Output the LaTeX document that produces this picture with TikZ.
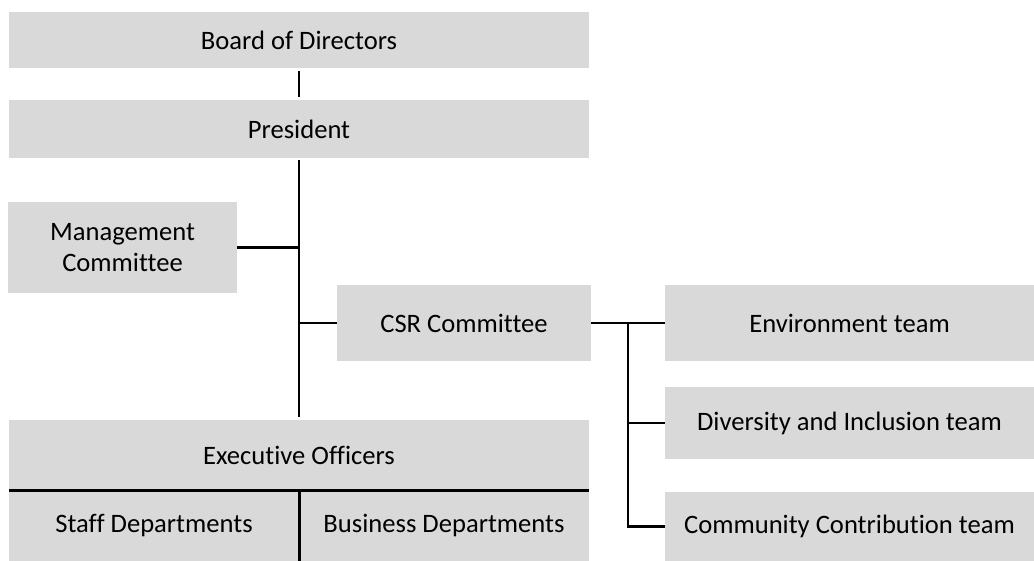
\documentclass[tikz,border=0pt]{standalone}
\usepackage{fontspec}
\setmainfont{Carlito}[Ligatures=NoCommon]
\usetikzlibrary{positioning}
\usetikzlibrary{calc}
\definecolor{boxgray}{HTML}{D9D9D9}
\tikzset{
  orgbox/.style={fill=boxgray, inner sep=0pt, align=center, text=black,
    font=\fontsize{13.3}{15.5}\selectfont},
  link/.style={line width=1.4pt, black},
}
\begin{document}
\begin{tikzpicture}[x=0.5pt, y=-0.5pt]

\useasboundingbox (0,0) rectangle (1034,561);

\node[orgbox, minimum width=290pt, minimum height=28pt] (A) at (299,40) {Board of Directors};
\node[orgbox, minimum width=290pt, minimum height=29pt] (B) at (299,129) {President};

\node[orgbox, minimum width=114.5pt, minimum height=45.5pt] (C) at (122.5,247.5) {Management\\Committee};
\node[orgbox, minimum width=127pt, minimum height=38pt] (D) at (464,323) {CSR Committee};

\node[orgbox, minimum width=184.5pt, minimum height=38pt] (E) at (849.5,323) {Environment team};
\node[orgbox, minimum width=184.5pt, minimum height=36pt] (F) at (849.5,423) {Diversity and Inclusion team};
\node[orgbox, minimum width=184.5pt, minimum height=34.5pt] (G) at (849.5,526.5) {Community Contribution team};

\node[orgbox, minimum width=290pt, minimum height=35pt] (H) at (299,455) {Executive Officers};
\node[orgbox, minimum width=145pt, minimum height=35.5pt] (I) at (154,525.5) {Staff Departments};
\node[orgbox, minimum width=145pt, minimum height=35.5pt] (J) at (444,525.5) {Business Departments};

\coordinate (K) at (628,323);

\draw[link, shorten <=1.5pt, shorten >=1.5pt] (A) -- (B);
\draw[link, shorten <=1pt, shorten >=1.5pt] (B) -- (H);

\draw[link] (C.east) -- (C.east -| B.south);
\draw[link] (D.west) -- (D.west -| B.south);

\draw[link] (D) -- (E);
\draw[link] (K) |- (G);
\draw[link] (K |- F) -- (F);

\draw[link] (H.south west) -- (H.south east);
\draw[link] (I.north east) -- (I.south east);

\end{tikzpicture}
\end{document}
